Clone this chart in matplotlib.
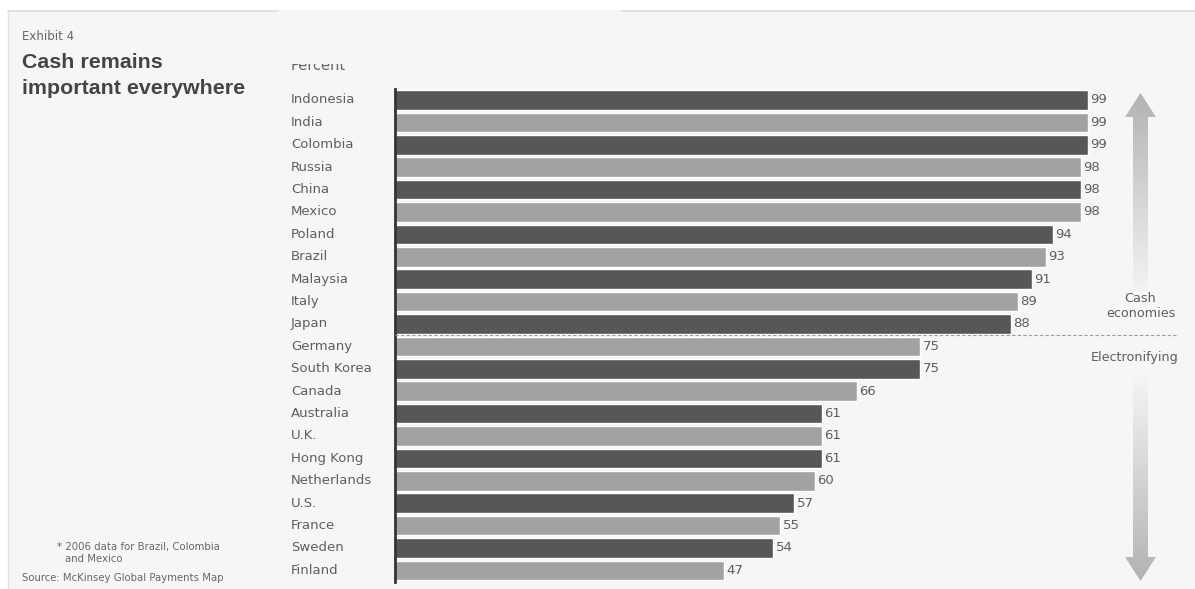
import numpy as np
import matplotlib
matplotlib.use("Agg")
from matplotlib import pyplot as plt
from matplotlib.patches import Polygon, Rectangle

countries = ["Indonesia", "India", "Colombia", "Russia", "China", "Mexico",
             "Poland", "Brazil", "Malaysia", "Italy", "Japan", "Germany",
             "South Korea", "Canada", "Australia", "U.K.", "Hong Kong",
             "Netherlands", "U.S.", "France", "Sweden", "Finland"]
values = [99, 99, 99, 98, 98, 98, 94, 93, 91, 89, 88, 75,
          75, 66, 61, 61, 61, 60, 57, 55, 54, 47]
n_cash = 11  # first 11 rows are "cash economies"

W, H = 1195, 589
BG = "#f6f6f6"
DARK = "#575757"
LIGHT = "#a2a2a2"
TXT = "#5e5e5e"

plt.rcParams['font.family'] = ['DejaVu Sans']
fig = plt.figure(figsize=(W / 100, H / 100), dpi=100)
fig.patch.set_facecolor("white")

# overlay axes in pixel coordinates for decorations
deco = fig.add_axes([0, 0, 1, 1])
deco.set_xlim(0, W)
deco.set_ylim(H, 0)
deco.axis("off")
deco.add_patch(Rectangle((8, 10), W, H, facecolor=BG, edgecolor="none", zorder=0))
deco.plot([8, 278], [10.5, 10.5], color="#dddddd", lw=1.2, zorder=1)
deco.plot([622, W], [10.5, 10.5], color="#dddddd", lw=1.2, zorder=1)
deco.plot([8.5, 8.5], [10, H], color="#e2e2e2", lw=1, zorder=1)

deco.text(22, 37, "Exhibit 4", fontsize=8.5, color="#666666", va="center", ha="left")
deco.text(22, 62, "Cash remains", fontsize=15.4, fontweight="bold", color="#444444",
          va="center", ha="left", family="Liberation Sans")
deco.text(22, 89, "important everywhere", fontsize=15.4, fontweight="bold", color="#444444",
          va="center", ha="left", family="Liberation Sans")
# "Percent" is clipped at the top in the original
deco.text(291, 70.5, "Percent", fontsize=10.5, color="#666666", va="baseline", ha="left")
deco.add_patch(Rectangle((280, 11), 120, 52.5, facecolor=BG, edgecolor="none", zorder=3))

deco.text(57, 547, "* 2006 data for Brazil, Colombia", fontsize=7.3, color="#666666",
          va="center", ha="left")
deco.text(65, 559, "and Mexico", fontsize=7.3, color="#666666", va="center", ha="left")
deco.text(22, 578, "Source: McKinsey Global Payments Map", fontsize=7.3, color="#666666",
          va="center", ha="left")

# gradient arrows
def grad_arrow(pts, y_dark, y_light):
    poly = Polygon(pts, closed=True, facecolor="none", edgecolor="none")
    deco.add_patch(poly)
    ys = np.linspace(0, 1, 200).reshape(-1, 1)
    ymin, ymax = min(y_dark, y_light), max(y_dark, y_light)
    if y_dark < y_light:
        g = ys
    else:
        g = 1 - ys
    grey = 0.70 + g * (0.965 - 0.70)
    img = np.dstack([grey, grey, grey])
    im = deco.imshow(img, extent=[1120, 1160, ymax, ymin], aspect="auto",
                     interpolation="bilinear", zorder=2)
    im.set_clip_path(poly)

cx = 1140.5
up = [(cx - 7.5, 300), (cx - 7.5, 117), (cx - 15.5, 117), (cx, 93),
      (cx + 15.5, 117), (cx + 7.5, 117), (cx + 7.5, 300)]
grad_arrow(up, 93, 300)
down = [(cx - 7.5, 372), (cx - 7.5, 557), (cx - 15.5, 557), (cx, 581),
        (cx + 15.5, 557), (cx + 7.5, 557), (cx + 7.5, 372)]
grad_arrow(down, 581, 372)

deco.text(cx, 306, "Cash\neconomies", fontsize=9.2, color=TXT, ha="center", va="center",
          linespacing=1.15, zorder=4,
          bbox=dict(facecolor=BG, edgecolor="none", pad=1))
deco.text(1135, 357, "Electronifying", fontsize=9.2, color=TXT, ha="center", va="center", zorder=4)

# bar chart axes
x0, x1 = 395, W
row_h = 22.4
top = 100 - row_h / 2
bottom = top + row_h * len(countries)
ax = fig.add_axes([x0 / W, 1 - bottom / H, (x1 - x0) / W, (bottom - top) / H])
ax.patch.set_alpha(0)
px_per_unit = 7.0
ax.set_xlim(0, (x1 - x0) / px_per_unit)
ax.set_ylim(len(countries) - 0.5, -0.5)

ypos = np.arange(len(countries))
colors = [DARK if i % 2 == 0 else LIGHT for i in range(len(countries))]
ax.barh(ypos, values, height=0.88, color=colors, edgecolor="white", linewidth=1.0, zorder=2)
for y, v in zip(ypos, values):
    ax.text(v + 0.35, y, str(v), fontsize=9.5, color=TXT, va="center", ha="left")

ax.hlines(n_cash - 0.5, 0, (1176 - x0) / px_per_unit, colors="#9a9a9a",
          linestyles=(0, (3, 2)), lw=0.8, zorder=3)

for y, c in zip(ypos, countries):
    ax.text(-(x0 - 291) / px_per_unit, y, c, fontsize=9.5, color=TXT, va="center", ha="left")

for s in ["top", "right", "bottom"]:
    ax.spines[s].set_visible(False)
ax.spines["left"].set_color("#333333")
ax.spines["left"].set_linewidth(2)
ax.set_xticks([])
ax.set_yticks([])

fig.savefig("out.png", dpi=100, facecolor=fig.get_facecolor())
